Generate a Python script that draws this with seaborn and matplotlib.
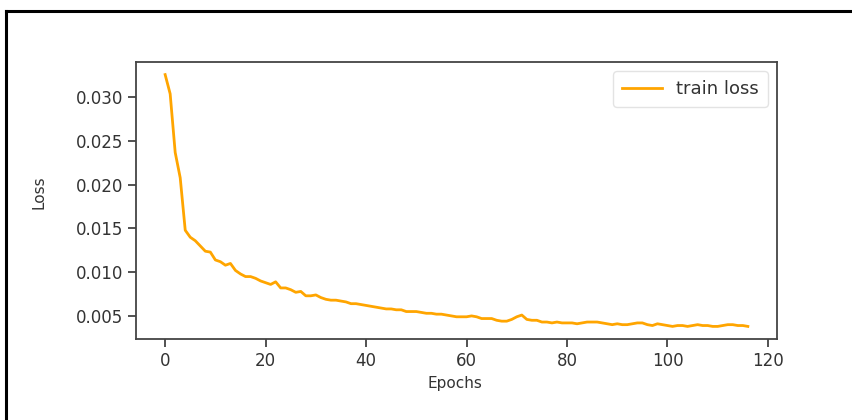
import numpy as np
import pandas as pd
import matplotlib
matplotlib.use("Agg")
import matplotlib.pyplot as plt
import seaborn as sns
from matplotlib.lines import Line2D

# ---- data ----
epochs = list(range(117))
train_loss = [
    0.0326, 0.0304, 0.0237, 0.0208, 0.0148, 0.0140, 0.0136, 0.0130, 0.0124, 0.0123,
    0.0114, 0.0112, 0.0108, 0.0110, 0.0102, 0.0098, 0.0095, 0.0095, 0.0093, 0.0090,
    0.0088, 0.0086, 0.0089, 0.0082, 0.0082, 0.0080, 0.0077, 0.0078, 0.0073, 0.0073,
    0.0074, 0.0071, 0.0069, 0.0068, 0.0068, 0.0067, 0.0066, 0.0064, 0.0064, 0.0063,
    0.0062, 0.0061, 0.0060, 0.0059, 0.0058, 0.0058, 0.0057, 0.0057, 0.0055, 0.0055,
    0.0055, 0.0054, 0.0053, 0.0053, 0.0052, 0.0052, 0.0051, 0.0050, 0.0049, 0.0049,
    0.0049, 0.0050, 0.0049, 0.0047, 0.0047, 0.0047, 0.0045, 0.0044, 0.0044, 0.0046,
    0.0049, 0.0051, 0.0046, 0.0045, 0.0045, 0.0043, 0.0043, 0.0042, 0.0043, 0.0042,
    0.0042, 0.0042, 0.0041, 0.0042, 0.0043, 0.0043, 0.0043, 0.0042, 0.0041, 0.0040,
    0.0041, 0.0040, 0.0040, 0.0041, 0.0042, 0.0042, 0.0040, 0.0039, 0.0041, 0.0040,
    0.0039, 0.0038, 0.0039, 0.0039, 0.0038, 0.0039, 0.0040, 0.0039, 0.0039, 0.0038,
    0.0038, 0.0039, 0.0040, 0.0040, 0.0039, 0.0039, 0.0038,
]
series_label = "train loss"
x_label = "Epochs"
y_label = "Loss"

df = pd.DataFrame({"epoch": epochs, "loss": train_loss})

W, H = 853, 420
fig = plt.figure(figsize=(W / 100, H / 100), dpi=100)
ax = fig.add_axes([136 / W, 1 - 339 / H, 641 / W, 277 / H])

sns.lineplot(data=df, x="epoch", y="loss", color="#FFA500", linewidth=2,
             label=series_label, ax=ax)

ax.set_xticks([0, 20, 40, 60, 80, 100, 120])
ax.set_yticks([0.005, 0.010, 0.015, 0.020, 0.025, 0.030])
ax.set_yticklabels(["0.005", "0.010", "0.015", "0.020", "0.025", "0.030"])
ax.tick_params(axis="both", labelsize=12, length=6, width=1.2,
               colors="#333333", labelcolor="#333333")
for s in ax.spines.values():
    s.set_color("#444444")
    s.set_linewidth(1.3)

ax.set_xlabel(x_label, fontsize=11, color="#333333")
ax.set_ylabel(y_label, fontsize=11, color="#333333")
ax.xaxis.set_label_coords(0.497, -0.135)
ax.yaxis.set_label_coords(-0.14, 0.53)

leg = ax.legend(loc="upper right", fontsize=13, frameon=True,
                handlelength=2.2, borderpad=0.5)
leg.get_frame().set_edgecolor("#dddddd")
for t in leg.get_texts():
    t.set_color("#333333")

# outer frame (top and left edges)
fig.add_artist(Line2D([6 / W, 1.0], [1 - 11 / H, 1 - 11 / H], color="black",
                      linewidth=2.2, transform=fig.transFigure))
fig.add_artist(Line2D([6 / W, 6 / W], [0.0, 1 - 11 / H], color="black",
                      linewidth=2.2, transform=fig.transFigure))

fig.savefig("out.png", dpi=100)
